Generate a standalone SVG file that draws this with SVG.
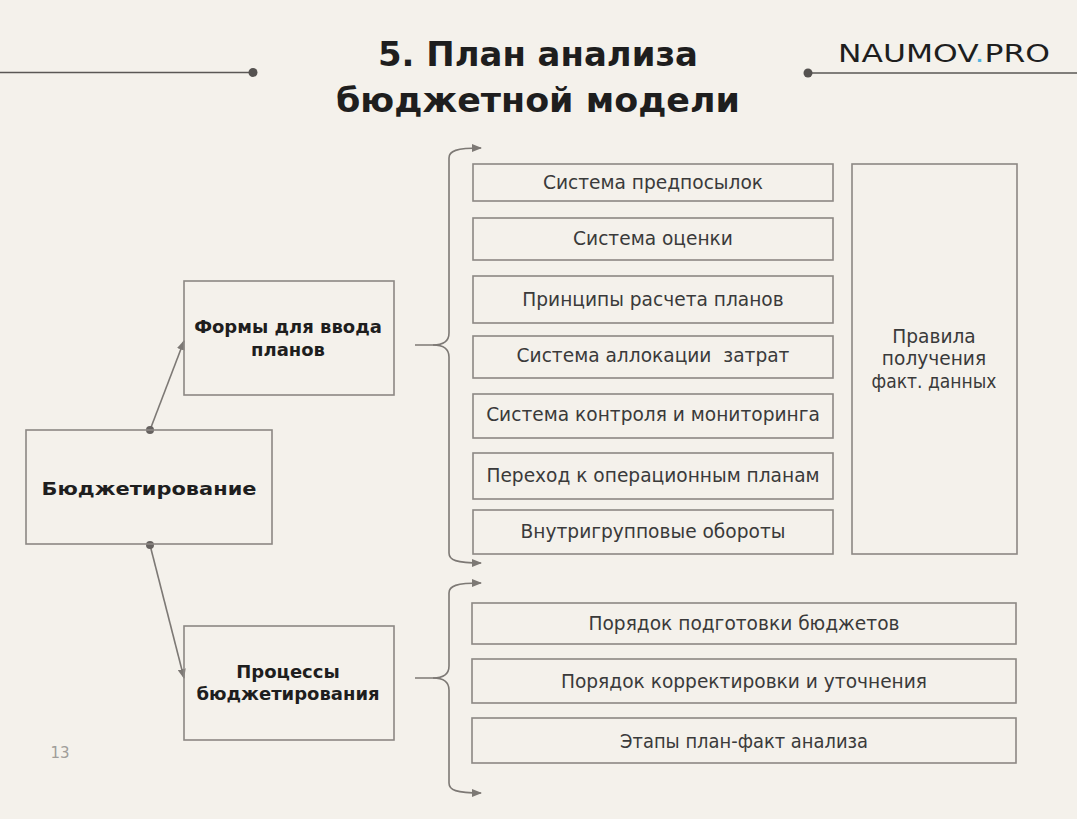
<svg xmlns="http://www.w3.org/2000/svg" width="1077" height="819" viewBox="0 0 1077 819">
<defs>
<marker id="arr" markerUnits="userSpaceOnUse" markerWidth="10" markerHeight="8" refX="9" refY="4" orient="auto">
<path d="M0,0 L10,4 L0,8 z" fill="#7d7975"/>
</marker>
<style>
.box{fill:none;stroke:#8c8884;stroke-width:1.6}
.t{font-family:"DejaVu Sans","Noto Sans",sans-serif;font-size:18.6px;fill:#3a3a3a;text-anchor:middle}
.b{font-family:"DejaVu Sans","Noto Sans",sans-serif;font-weight:bold;font-size:18px;fill:#1e1e1e;text-anchor:middle}
.h{font-family:"DejaVu Sans","Noto Sans",sans-serif;font-weight:bold;font-size:33px;fill:#1e1e1e;text-anchor:middle}
.con{fill:none;stroke:#7d7975;stroke-width:1.6}
.dot{fill:#666260}
</style>
</defs>
<rect x="0" y="0" width="1077" height="819" fill="#f4f1eb"/>
<g id="header">
<line x1="0" y1="72.5" x2="253" y2="72.5" stroke="#5a5755" stroke-width="1.6"/>
<circle cx="253" cy="72.5" r="4.5" fill="#555250"/>
<line x1="808" y1="73" x2="1077" y2="73" stroke="#5a5755" stroke-width="1.6"/>
<circle cx="808" cy="73" r="4.5" fill="#555250"/>
<text class="h" x="538" y="66" textLength="320" lengthAdjust="spacingAndGlyphs">5. План анализа</text>
<text class="h" x="538" y="112" textLength="404" lengthAdjust="spacingAndGlyphs">бюджетной модели</text>
<text x="838" y="62" font-family="DejaVu Sans, sans-serif" font-size="25" fill="#1e1e1e" textLength="212" lengthAdjust="spacingAndGlyphs">NAUMOV<tspan fill="#4fb3e0">.</tspan>PRO</text>
<text x="60" y="758" font-family="DejaVu Sans, sans-serif" font-size="15" fill="#a09d99" text-anchor="middle">13</text>
</g>
<g id="connectors">
<line class="con" x1="150" y1="430" x2="184" y2="341" marker-end="url(#arr)"/>
<line class="con" x1="150" y1="545" x2="184" y2="678" marker-end="url(#arr)"/>
<circle class="dot" cx="150" cy="430" r="4"/>
<circle class="dot" cx="150" cy="545" r="4"/>
<path class="con" d="M415,345 L433,345 C444,345 449,341 449,333 L449,158 C449,151 456,148 481,148" marker-end="url(#arr)"/>
<path class="con" d="M433,345 C444,345 449,349 449,357 L449,553 C449,560 456,563 481,563" marker-end="url(#arr)"/>
<path class="con" d="M415,678 L433,678 C444,678 449,674 449,666 L449,593 C449,586 456,583 481,583" marker-end="url(#arr)"/>
<path class="con" d="M433,678 C444,678 449,682 449,690 L449,783 C449,790 456,793 481,793" marker-end="url(#arr)"/>
</g>
<g id="n-budget">
<rect class="box" x="26" y="430" width="246" height="114"/>
<text class="b" x="149" y="495" font-size="22" textLength="215" lengthAdjust="spacingAndGlyphs">Бюджетирование</text>
</g>
<g id="n-forms">
<rect class="box" x="184" y="281" width="210" height="114"/>
<text class="b" x="288" y="333">Формы для ввода</text>
<text class="b" x="288" y="356">планов</text>
</g>
<g id="n-process">
<rect class="box" x="184" y="626" width="210" height="114"/>
<text class="b" x="288" y="678">Процессы</text>
<text class="b" x="288" y="700">бюджетирования</text>
</g>
<g id="n-1"><rect class="box" x="473" y="164" width="360" height="37"/><text class="t" x="653" y="188.5">Система предпосылок</text></g>
<g id="n-2"><rect class="box" x="473" y="218" width="360" height="42"/><text class="t" x="653" y="245">Система оценки</text></g>
<g id="n-3"><rect class="box" x="473" y="276" width="360" height="47"/><text class="t" x="653" y="306">Принципы расчета планов</text></g>
<g id="n-4"><rect class="box" x="473" y="336" width="360" height="42"/><text class="t" x="653" y="362" xml:space="preserve">Система аллокации  затрат</text></g>
<g id="n-5"><rect class="box" x="473" y="394" width="360" height="44"/><text class="t" x="653" y="421">Система контроля и мониторинга</text></g>
<g id="n-6"><rect class="box" x="473" y="453" width="360" height="46"/><text class="t" x="653" y="482">Переход к операционным планам</text></g>
<g id="n-7"><rect class="box" x="473" y="510" width="360" height="44"/><text class="t" x="653" y="538">Внутригрупповые обороты</text></g>
<g id="n-fact"><rect class="box" x="852" y="164" width="165" height="390"/>
<text class="t" x="934" y="343">Правила</text>
<text class="t" x="934" y="365">получения</text>
<text class="t" x="934" y="388" textLength="125" lengthAdjust="spacingAndGlyphs">факт. данных</text></g>
<g id="n-p1"><rect class="box" x="472" y="603" width="544" height="41"/><text class="t" x="744" y="630">Порядок подготовки бюджетов</text></g>
<g id="n-p2"><rect class="box" x="472" y="659" width="544" height="44"/><text class="t" x="744" y="688">Порядок корректировки и уточнения</text></g>
<g id="n-p3"><rect class="box" x="472" y="718" width="544" height="45"/><text class="t" x="744" y="748" textLength="248" lengthAdjust="spacingAndGlyphs">Этапы план-факт анализа</text></g>
</svg>
